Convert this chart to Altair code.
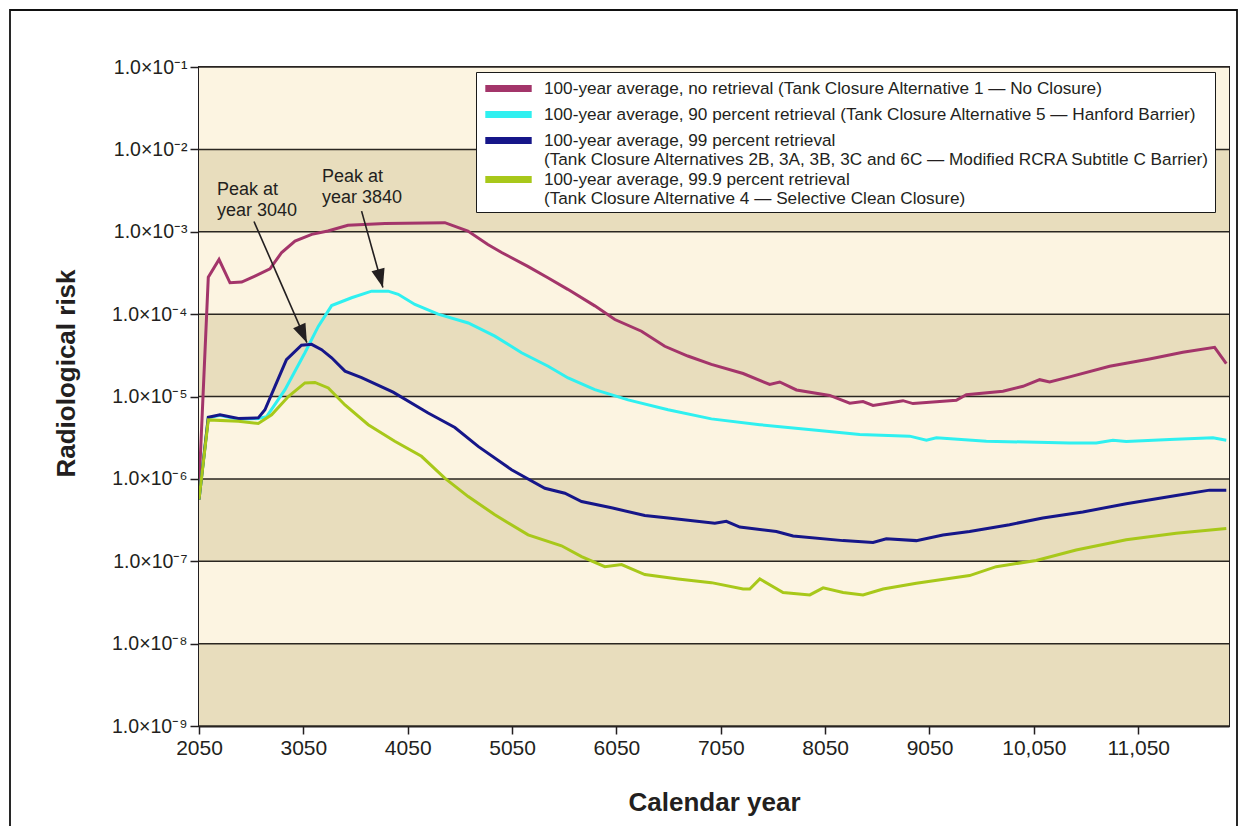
import altair as alt
import pandas as pd

# ---------------- data ----------------
series_names = [
    "100-year average, no retrieval (Tank Closure Alternative 1 \u2014 No Closure)",
    "100-year average, 90 percent retrieval (Tank Closure Alternative 5 \u2014 Hanford Barrier)",
    "100-year average, 99 percent retrieval|(Tank Closure Alternatives 2B, 3A, 3B, 3C and 6C \u2014 Modified RCRA Subtitle C Barrier)",
    "100-year average, 99.9 percent retrieval|(Tank Closure Alternative 4 \u2014 Selective Clean Closure)",
]
series_colors = ["#a3356a", "#2ff0f0", "#161689", "#a8c81a"]

no_ret_years = [2050, 2139, 2242, 2347, 2459, 2586, 2730, 2842, 2970, 3130,
                3285, 3477, 3832, 4406, 4627, 4818, 4950, 5201, 5393, 5584,
                5843, 6035, 6290, 6513, 6734, 6960, 7264, 7519, 7615, 7775,
                8094, 8286, 8413, 8509, 8796, 8892, 9307, 9403, 9754, 9946,
                10106, 10201, 10393, 10776, 11159, 11478, 11782, 11894]
no_ret_vals = [8e-7, 2.8e-4, 4.6e-4, 2.4e-4, 2.45e-4, 2.9e-4, 3.55e-4, 5.6e-4, 7.7e-4, 9.3e-4,
               1.02e-3, 1.2e-3, 1.26e-3, 1.29e-3, 1.02e-3, 7.0e-4, 5.6e-4, 3.8e-4, 2.76e-4, 2.0e-4,
               1.26e-4, 8.6e-5, 6.2e-5, 4.07e-5, 3.1e-5, 2.45e-5, 1.9e-5, 1.4e-5, 1.5e-5, 1.2e-5,
               1.03e-5, 8.3e-6, 8.7e-6, 7.8e-6, 8.9e-6, 8.2e-6, 9.0e-6, 1.05e-5, 1.16e-5, 1.33e-5,
               1.6e-5, 1.5e-5, 1.73e-5, 2.33e-5, 2.86e-5, 3.44e-5, 3.96e-5, 2.5e-5]

r90_years = [2050, 2139, 2251, 2427, 2618, 2698, 2874, 3065, 3193, 3321,
             3512, 3704, 3863, 3959, 4119, 4342, 4630, 4885, 5141, 5396,
             5587, 5843, 6162, 6545, 6960, 7424, 7967, 8381, 8860, 9020,
             9116, 9595, 10393, 10648, 10808, 10935, 11351, 11766, 11894]
r90_vals = [5.6e-7, 5.5e-6, 5.9e-6, 5.3e-6, 5.4e-6, 5.7e-6, 1.21e-5, 3.4e-5, 7.1e-5, 1.27e-4,
            1.58e-4, 1.9e-4, 1.9e-4, 1.74e-4, 1.31e-4, 1.0e-4, 7.8e-5, 5.4e-5, 3.4e-5, 2.33e-5,
            1.68e-5, 1.21e-5, 9.1e-6, 6.9e-6, 5.35e-6, 4.55e-6, 3.9e-6, 3.45e-6, 3.3e-6, 2.95e-6,
            3.15e-6, 2.86e-6, 2.73e-6, 2.73e-6, 2.95e-6, 2.85e-6, 3.0e-6, 3.15e-6, 2.95e-6]

r99_years = [2050, 2139, 2251, 2427, 2618, 2682, 2778, 2888, 3032, 3129,
             3225, 3321, 3449, 3608, 3910, 4246, 4502, 4725, 5045, 5364,
             5556, 5716, 6003, 6322, 6545, 6993, 7103, 7232, 7583, 7743,
             8222, 8509, 8636, 8924, 9179, 9434, 9817, 10136, 10519, 10935,
             11414, 11734, 11894]
r99_vals = [5.6e-7, 5.6e-6, 6.0e-6, 5.4e-6, 5.5e-6, 6.9e-6, 1.33e-5, 2.8e-5, 4.2e-5, 4.3e-5,
            3.7e-5, 2.95e-5, 2.03e-5, 1.7e-5, 1.13e-5, 6.3e-6, 4.2e-6, 2.48e-6, 1.29e-6, 7.7e-7,
            6.7e-7, 5.3e-7, 4.45e-7, 3.6e-7, 3.35e-7, 2.9e-7, 3.05e-7, 2.6e-7, 2.3e-7, 2.03e-7,
            1.78e-7, 1.69e-7, 1.87e-7, 1.78e-7, 2.08e-7, 2.3e-7, 2.78e-7, 3.35e-7, 3.96e-7, 5.0e-7,
            6.3e-7, 7.3e-7, 7.3e-7]

r999_years = [2050, 2139, 2427, 2618, 2746, 2906, 3065, 3161, 3289, 3449,
              3672, 3926, 4182, 4405, 4630, 4885, 5204, 5524, 5716, 5939,
              6099, 6322, 6641, 6960, 7264, 7328, 7424, 7647, 7903, 8031,
              8222, 8413, 8605, 8924, 9434, 9689, 10072, 10455, 10935, 11414,
              11894]
r999_vals = [5.6e-7, 5.2e-6, 5.0e-6, 4.7e-6, 6.0e-6, 1.0e-5, 1.46e-5, 1.48e-5, 1.27e-5, 7.9e-6,
             4.55e-6, 2.86e-6, 1.88e-6, 1.02e-6, 6.1e-7, 3.67e-7, 2.09e-7, 1.54e-7, 1.14e-7, 8.6e-8,
             9.1e-8, 6.9e-8, 6.1e-8, 5.5e-8, 4.6e-8, 4.6e-8, 6.1e-8, 4.17e-8, 3.9e-8, 4.75e-8,
             4.17e-8, 3.9e-8, 4.6e-8, 5.4e-8, 6.7e-8, 8.6e-8, 1.02e-7, 1.37e-7, 1.82e-7, 2.19e-7,
             2.5e-7]

x_ticks = [2050, 3050, 4050, 5050, 6050, 7050, 8050, 9050, 10050, 11050]
x_domain = [2050, 11920]
y_ticks = [1e-9, 1e-8, 1e-7, 1e-6, 1e-5, 1e-4, 1e-3, 1e-2, 1e-1]

band_lo = [1e-9, 1e-8, 1e-7, 1e-6, 1e-5, 1e-4, 1e-3, 1e-2]
band_hi = [1e-8, 1e-7, 1e-6, 1e-5, 1e-4, 1e-3, 1e-2, 1e-1]
band_shade = ["dark", "light", "dark", "light", "dark", "light", "dark", "light"]

# annotations
note_text = ["Peak at\nyear 3040", "Peak at\nyear 3840"]
note_year = [2222, 3228]
note_val = [4.1e-3, 5.9e-3]
arrow_from_year = [2577, 3608]
arrow_from_val = [1.33e-3, 1.78e-3]
arrow_to_year = [3084, 3812]
arrow_to_val = [4.5e-5, 2.1e-4]
arrow_angle = [336, 345]

# ---------------- tables ----------------
rows = []
for name, ys, vs in zip(series_names,
                        [no_ret_years, r90_years, r99_years, r999_years],
                        [no_ret_vals, r90_vals, r99_vals, r999_vals]):
    for y, v in zip(ys, vs):
        rows.append({"series": name, "year": y, "risk": v})
lines_df = pd.DataFrame(rows)

bands_df = pd.DataFrame({"lo": band_lo, "hi": band_hi, "shade": band_shade,
                         "x0": x_domain[0], "x1": x_domain[1]})
grid_df = pd.DataFrame({"v": y_ticks})
notes_df = pd.DataFrame({"text": note_text, "year": note_year, "risk": note_val})
arrows_df = pd.DataFrame({"y0": arrow_from_year, "v0": arrow_from_val,
                          "y1": arrow_to_year, "v1": arrow_to_val, "angle": arrow_angle})

FONT = "Liberation Sans"
W, H = 1030, 659

xscale = alt.Scale(domain=x_domain, nice=False, zero=False)
yscale = alt.Scale(type="log", domain=[1e-9, 1e-1], nice=False)

sup = "['\u2070','\u00b9','\u00b2','\u00b3','\u2074','\u2075','\u2076','\u2077','\u2078','\u2079']"

xaxis = alt.Axis(values=x_ticks, title="Calendar year", grid=False,
                 labelExpr="datum.value >= 10000 ? format(datum.value, ',') : format(datum.value, 'd')",
                 labelFont=FONT, labelFontSize=21, labelColor="#231f20", labelPadding=3,
                 labelFlush=False, labelOverlap=False,
                 tickColor="#231f20", tickSize=8, tickWidth=1.5,
                 domainColor="#231f20", domainWidth=2,
                 titleFont=FONT, titleFontSize=26, titleFontWeight="bold", titleColor="#231f20",
                 titleX=W / 2, titleY=76, titleBaseline="middle")
yaxis = alt.Axis(values=y_ticks, title="Radiological risk", grid=False,
                 labelExpr="'1.0\u00d710\u207b' + " + sup + "[round(-log(datum.value)/LN10)]",
                 labelFont=FONT, labelFontSize=19.5, labelColor="#231f20", labelPadding=3,
                 labelFlush=False, labelOverlap=False,
                 tickColor="#231f20", tickSize=9, tickWidth=1.5,
                 domainColor="#231f20", domainWidth=2,
                 titleFont=FONT, titleFontSize=26, titleFontWeight="bold", titleColor="#231f20",
                 titleAngle=270, titleX=-133, titleY=306, titleBaseline="middle", titleAlign="center")

bands = alt.Chart(bands_df).mark_rect().encode(
    x=alt.X("x0:Q", scale=xscale, axis=xaxis),
    x2="x1:Q",
    y=alt.Y("lo:Q", scale=yscale, axis=yaxis),
    y2="hi:Q",
    color=alt.Color("shade:N", scale=alt.Scale(domain=["light", "dark"], range=["#fcf4e1", "#e8ddbd"]), legend=None),
)

grid = alt.Chart(grid_df).mark_rule(color="#2a2620", strokeWidth=1.5).encode(
    y=alt.Y("v:Q", scale=yscale),
)

lines = alt.Chart(lines_df).mark_line(strokeWidth=3, clip=True).encode(
    x=alt.X("year:Q", scale=xscale),
    y=alt.Y("risk:Q", scale=yscale),
    color=alt.Color("series:N",
                    scale=alt.Scale(domain=series_names, range=series_colors),
                    sort=series_names,
                    legend=alt.Legend(title=None, orient="none", legendX=277, legendY=5,
                                      fillColor="white", strokeColor="#1a1a1a",
                                      padding=5, rowPadding=-3.5,
                                      symbolType="M-2.9,0L2.9,0", symbolStrokeWidth=7, symbolSize=256,
                                      symbolOffset=16,
                                      labelExpr="indexof(datum.label, '|') >= 0 ? split(datum.label, '|') : datum.label",
                                      labelFont=FONT, labelFontSize=17.2, labelColor="#231f20",
                                      labelLimit=900, labelBaseline="middle", labelOffset=24)),
    detail="series:N",
)

arrow_lines = alt.Chart(arrows_df).mark_rule(color="#231f20", strokeWidth=1.6).encode(
    x=alt.X("y0:Q", scale=xscale), y=alt.Y("v0:Q", scale=yscale),
    x2="y1:Q", y2="v1:Q",
)
arrow_heads = alt.Chart(arrows_df).mark_point(
    shape="M0,0 L-0.36,-1 L0.36,-1 Z", filled=True, color="#231f20", opacity=1, size=1400
).encode(
    x=alt.X("y1:Q", scale=xscale), y=alt.Y("v1:Q", scale=yscale),
    angle=alt.Angle("angle:Q", scale=None),
)

notes = alt.Chart(notes_df).mark_text(
    align="left", baseline="top", font=FONT, fontSize=18, color="#231f20",
    lineBreak="\n", lineHeight=21
).encode(
    x=alt.X("year:Q", scale=xscale), y=alt.Y("risk:Q", scale=yscale), text="text:N"
)

frame = alt.Chart(pd.DataFrame({"k": [0]})).mark_rect(
    filled=False, stroke="#111111", strokeWidth=1.8
).encode(
    x=alt.value(-189), x2=alt.value(1038), y=alt.value(-57), y2=alt.value(820)
)

chart = alt.layer(bands, grid, lines, arrow_lines, arrow_heads, notes, frame).resolve_scale(
    color="independent"
).properties(
    width=W, height=H,
    autosize=alt.AutoSizeParams(type="none"),
    padding={"left": 199, "top": 67, "right": 12, "bottom": 100},
    background="white",
).configure_view(stroke="#231f20", strokeWidth=2)

chart.save("out.html", embed_options={"renderer": "svg", "actions": False})
